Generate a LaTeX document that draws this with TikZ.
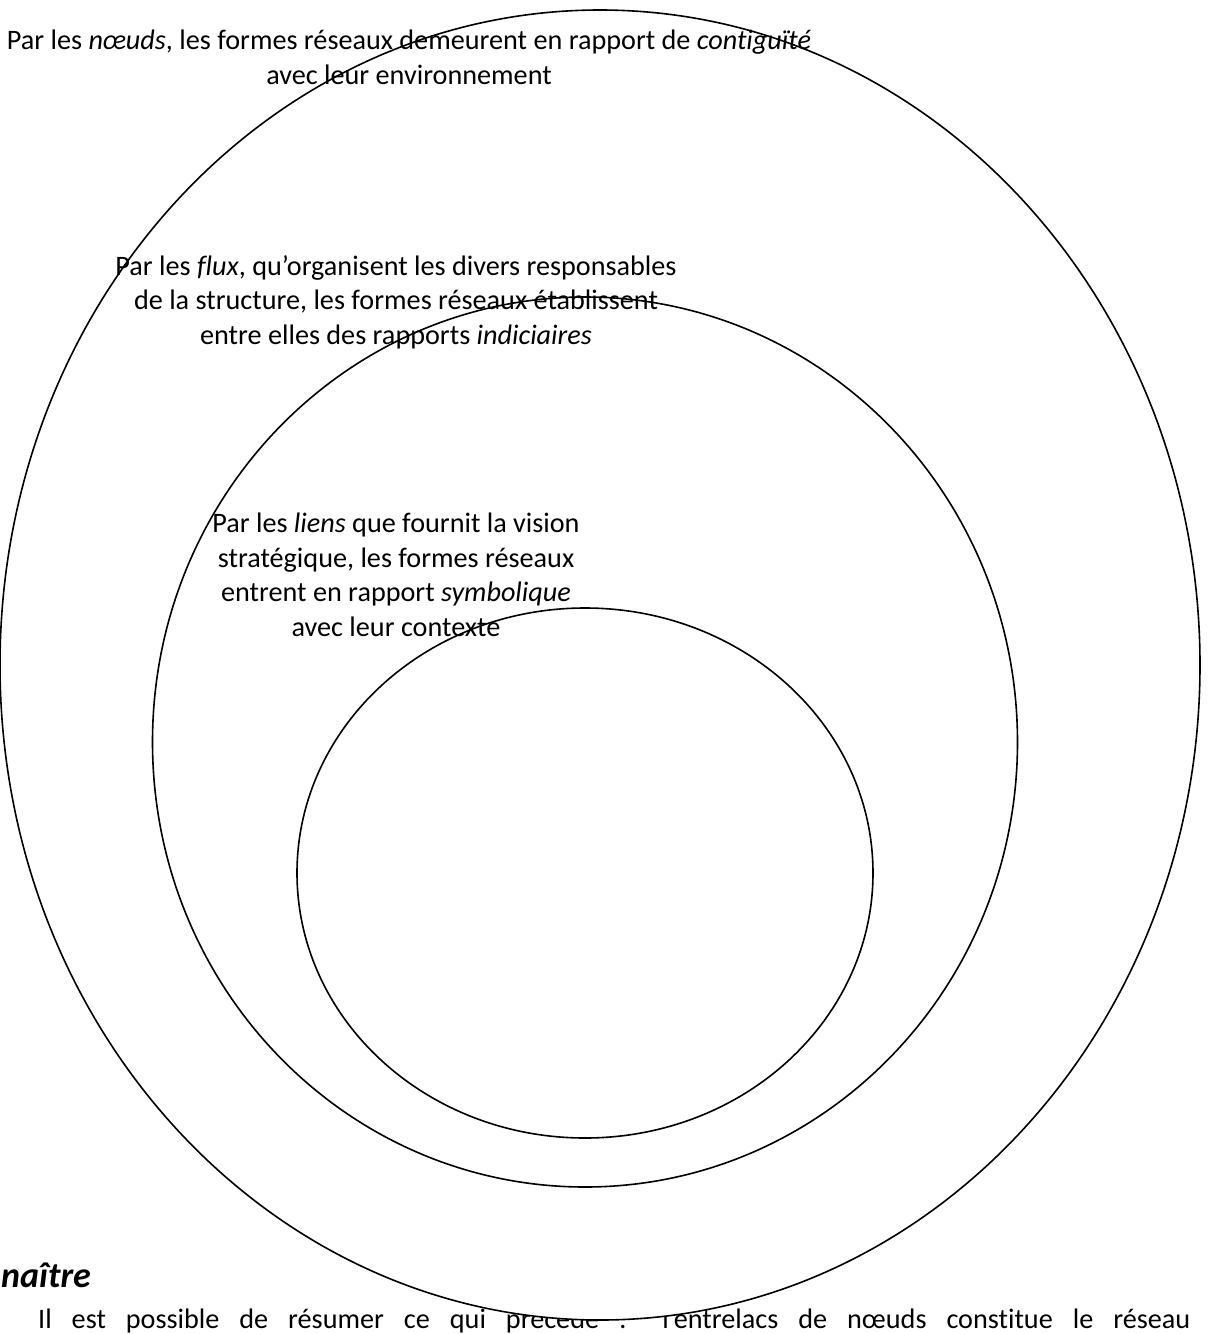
\documentclass[tikz,border=0pt]{standalone}
\usepackage{fontspec}
\setmainfont{Carlito}[RawFeature=-liga]
\usetikzlibrary{shapes.geometric}
\begin{document}
\begin{tikzpicture}[x=1pt,y=-1pt,
  ring/.style={ellipse, draw=black, line width=1.6pt, fill=white, inner sep=0pt},
  label/.style={align=center, inner sep=0pt, anchor=base,
    font=\fontsize{28.2}{34.5}\selectfont}]
\useasboundingbox[fill=white] (0,0) rectangle (1210,1334);
% text of the page below the figure
\node[anchor=base west, inner sep=0pt, font=\fontsize{36}{40}\selectfont\bfseries\itshape] (head) at (1,1287) {naître};
\node[anchor=base west, inner sep=0pt, font=\fontsize{28.2}{34}\selectfont] (para) at (38,1328)
  {\makebox[1152pt][s]{Il est possible de résumer ce qui précède : l’entrelacs de nœuds constitue le réseau}};
% ellipses
\node[ring, minimum width=1200pt, minimum height=1310pt] (outer) at (600,665) {};
\node[ring, minimum width=865pt, minimum height=890pt] (middle) at (585,742) {};
\node[ring, minimum width=576pt, minimum height=530pt] (inner) at (585,873) {};
% labels
\node[label] (tnoeuds) at (409,84) {Par les \textit{nœuds}, les formes réseaux demeurent en rapport de \textit{contiguïté}\\avec leur environnement};
\node[label] (tflux) at (396,344) {Par les \textit{flux}, qu’organisent les divers responsables\\de la structure, les formes réseaux établissent\\entre elles des rapports \textit{indiciaires}};
\node[label] (tliens) at (396,636) {Par les \textit{liens} que fournit la vision\\stratégique, les formes réseaux\\entrent en rapport \textit{symbolique}\\avec leur contexte};
\end{tikzpicture}
\end{document}
